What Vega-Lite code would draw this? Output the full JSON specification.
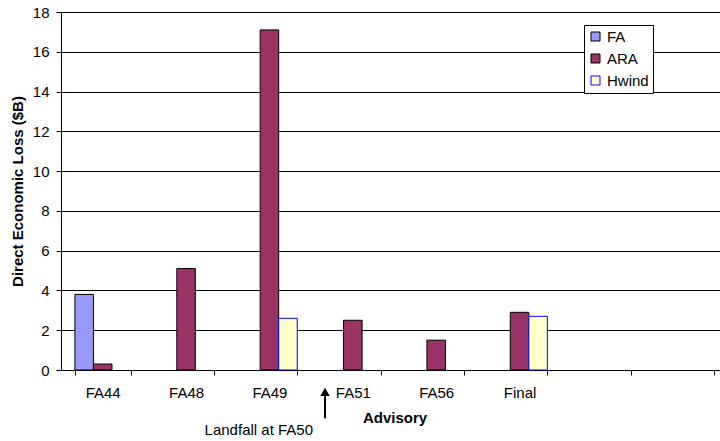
{
  "$schema": "https://vega.github.io/schema/vega-lite/v6.json",
  "autosize": {"type": "none"},
  "width": 659,
  "height": 358,
  "padding": {"left": 61, "top": 12, "right": 0, "bottom": 71},
  "background": "white",
  "config": {
    "view": {"stroke": null},
    "font": "Liberation Sans",
    "axisX": {
      "titleFontSize": 15,
      "titleFontWeight": "bold",
      "titleColor": "black",
      "titlePadding": 10,
      "labelFontSize": 15,
      "labelColor": "black",
      "labelAngle": 0,
      "labelPadding": 10,
      "tickBand": "extent",
      "tickSize": 5,
      "tickColor": "black",
      "domainColor": "black",
      "grid": false
    },
    "axisY": {
      "titleFontSize": 15,
      "titleFontWeight": "bold",
      "titleColor": "black",
      "titlePadding": 7,
      "labelOverlap": false,
      "labelFontSize": 15,
      "labelColor": "black",
      "labelPadding": 7,
      "tickSize": 5,
      "tickColor": "black",
      "domainColor": "black",
      "grid": true,
      "gridColor": "black",
      "gridOpacity": 1
    },
    "legend": {
      "orient": "none",
      "legendX": 523,
      "legendY": 13,
      "title": null,
      "fillColor": "white",
      "strokeColor": "black",
      "padding": 4,
      "symbolType": "square",
      "symbolSize": 81,
      "symbolStrokeWidth": 1,
      "labelFontSize": 15,
      "labelFont": "Liberation Sans",
      "labelColor": "black",
      "labelOffset": 4,
      "rowPadding": 6
    }
  },
  "datasets": {
    "losses": [
      {"advisory": "FA44", "model": "FA", "loss": 3.8},
      {"advisory": "FA44", "model": "ARA", "loss": 0.3},
      {"advisory": "FA48", "model": "ARA", "loss": 5.1},
      {"advisory": "FA49", "model": "ARA", "loss": 17.1},
      {"advisory": "FA49", "model": "Hwind", "loss": 2.6},
      {"advisory": "FA51", "model": "ARA", "loss": 2.5},
      {"advisory": "FA56", "model": "ARA", "loss": 1.5},
      {"advisory": "Final", "model": "ARA", "loss": 2.9},
      {"advisory": "Final", "model": "Hwind", "loss": 2.7}
    ],
    "notes": [
      {"advisory": "FA51", "label": "Landfall at FA50", "textY": -3.02, "arrowTop": -1.3, "arrowBottom": -2.43, "headY": -1.1}
    ]
  },
  "layer": [
    {
      "data": {"name": "losses"},
      "mark": {"type": "bar", "strokeWidth": 1},
      "encoding": {
        "x": {
          "field": "advisory",
          "type": "nominal",
          "sort": null,
          "scale": {
            "domain": ["FA44", "FA48", "FA49", "FA51", "FA56", "Final", " ", "  "],
            "range": [0, 667],
            "paddingInner": 0.333,
            "paddingOuter": 0.1667
          },
          "axis": {"title": "Advisory"}
        },
        "xOffset": {
          "field": "model",
          "type": "nominal",
          "scale": {"domain": ["FA", "ARA", "Hwind"], "paddingInner": 0, "paddingOuter": 0}
        },
        "y": {
          "field": "loss",
          "type": "quantitative",
          "scale": {"domain": [0, 18], "nice": false},
          "axis": {"title": "Direct Economic Loss ($B)", "values": [0, 2, 4, 6, 8, 10, 12, 14, 16, 18]}
        },
        "fill": {
          "field": "model",
          "type": "nominal",
          "scale": {"domain": ["FA", "ARA", "Hwind"], "range": ["#9999FF", "#993366", "#FFFFCC"]}
        },
        "stroke": {
          "field": "model",
          "type": "nominal",
          "scale": {"domain": ["FA", "ARA", "Hwind"], "range": ["#000000", "#000000", "#0000FF"]}
        }
      }
    },
    {
      "data": {"name": "notes"},
      "mark": {"type": "rule", "color": "black", "strokeWidth": 2},
      "encoding": {
        "x": {"field": "advisory", "type": "nominal", "bandPosition": 0, "axis": {"title": "Advisory"}},
        "y": {"field": "arrowTop", "type": "quantitative", "axis": {"title": "Direct Economic Loss ($B)", "values": [0, 2, 4, 6, 8, 10, 12, 14, 16, 18]}},
        "y2": {"field": "arrowBottom"}
      }
    },
    {
      "data": {"name": "notes"},
      "mark": {"type": "point", "shape": "triangle-up", "filled": true, "color": "black", "size": 90, "opacity": 1},
      "encoding": {
        "x": {"field": "advisory", "type": "nominal", "bandPosition": 0, "axis": {"title": "Advisory"}},
        "y": {"field": "headY", "type": "quantitative", "axis": {"title": "Direct Economic Loss ($B)", "values": [0, 2, 4, 6, 8, 10, 12, 14, 16, 18]}}
      }
    },
    {
      "data": {"name": "notes"},
      "mark": {"type": "text", "align": "right", "baseline": "middle", "dx": -12, "fontSize": 15, "color": "black", "font": "Liberation Sans"},
      "encoding": {
        "x": {"field": "advisory", "type": "nominal", "bandPosition": 0, "axis": {"title": "Advisory"}},
        "y": {"field": "textY", "type": "quantitative", "axis": {"title": "Direct Economic Loss ($B)", "values": [0, 2, 4, 6, 8, 10, 12, 14, 16, 18]}},
        "text": {"field": "label"}
      }
    }
  ]
}
